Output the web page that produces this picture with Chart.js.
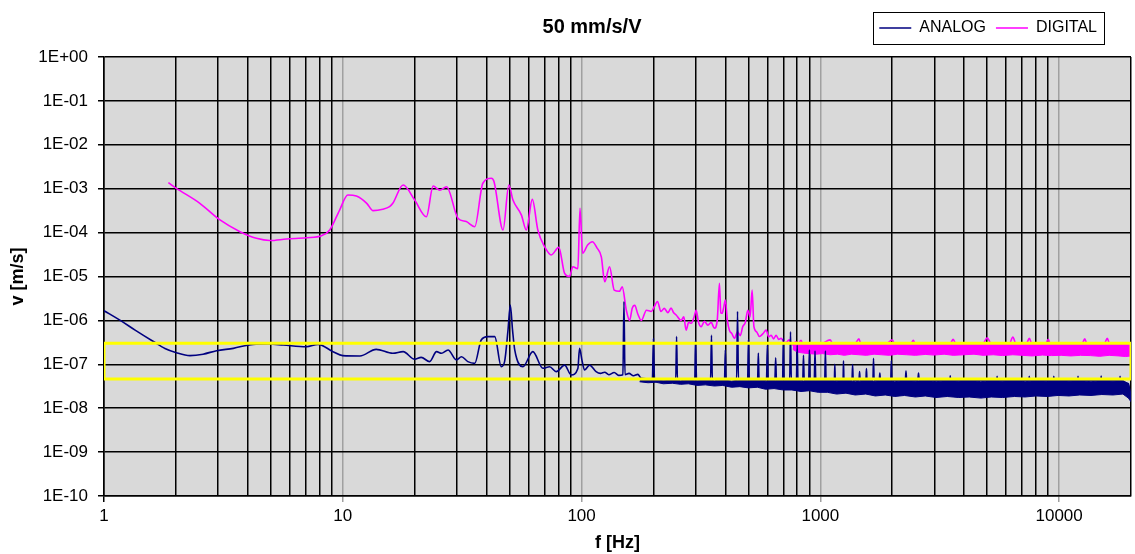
<!DOCTYPE html>
<html>
<head>
<meta charset="utf-8">
<script src="https://cdn.jsdelivr.net/npm/chart.js@4/dist/chart.umd.min.js"></script>
<style>
  html, body { margin: 0; padding: 0; background: #fff; }
  canvas { display: block; }
</style>
</head>
<body>
<canvas id="chart" width="1135" height="554"></canvas>
<script>
// ---- values ----
const seriesNames = ['ANALOG', 'DIGITAL'];

// ANALOG: smooth part below ~180 Hz, then the mains harmonics sticking out of the noise floor
const analogFreq = [
  1.0, 1.17, 1.35, 1.61, 1.8, 2.01, 2.29, 2.6, 2.96, 3.48, 4.21, 4.9, 5.63, 7.05, 7.88, 9.1, 10.0,
  11.8, 13.8, 16.2, 17.9, 20.0, 21.3, 23.1, 24.7, 25.9, 27.6, 29.9, 31.4, 33.4, 35.7, 38.0, 40.5,
  43.3, 46.1, 47.6, 49.2, 50.3, 51.4, 52.5, 56.8, 62.5, 68.9, 73.5, 78.4, 84.9, 90.5, 96.5, 98.1,
  100.5, 103, 108, 115, 120, 125, 130, 137, 143, 149, 150.5, 152, 158, 165, 172, 178,
  198, 200, 202, 225, 248, 250, 252, 275, 298, 300, 303, 325, 347, 350, 353, 375, 397, 400, 403,
  425, 446, 450, 454, 475, 496, 500, 504, 546, 550, 554, 595, 600, 605, 645, 650, 655, 695, 700, 705,
  744, 750, 756, 794, 800, 806, 844, 850, 856, 894, 900, 906, 943, 950, 957, 1043, 1050, 1057,
  1145, 1150, 1155, 1245, 1250, 1256, 1357, 1365, 1373, 1452, 1460, 1468, 1552, 1560, 1568,
  1660, 1670, 1680, 1765, 1775, 1785, 1972, 1983, 1994, 2270, 2284, 2298, 2560, 2577, 2594,
  3490, 3500, 3510, 5480, 5500, 5520, 7470, 7500, 7530, 9470, 9500, 9530, 11970, 12000, 12030,
  14960, 15000, 15040, 17950, 18000, 18050, 19500, 20000
];
const analogVel = [
  1.66e-6, 1.0e-6, 6.0e-7, 3.3e-7, 2.3e-7, 1.84e-7, 1.58e-7, 1.7e-7, 2.04e-7, 2.31e-7, 2.85e-7, 2.9e-7, 2.75e-7, 2.52e-7, 2.85e-7, 1.94e-7, 1.58e-7,
  1.55e-7, 2.19e-7, 1.78e-7, 1.94e-7, 1.3e-7, 1.44e-7, 1.15e-7, 1.94e-7, 1.78e-7, 2.12e-7, 1.26e-7, 1.49e-7, 1.15e-7, 1.05e-7, 3.58e-7, 4.26e-7,
  4.26e-7, 8.8e-8, 1.15e-7, 6.0e-7, 2.24e-6, 6.0e-7, 2.12e-7, 8.8e-8, 1.94e-7, 8.1e-8, 8.8e-8, 6.8e-8, 9.6e-8, 5.7e-8, 8.0e-8, 2.31e-7,
  1.2e-7, 7.4e-8, 9.6e-8, 6.8e-8, 6.2e-8, 6.6e-8, 5.8e-8, 6.5e-8, 5.6e-8, 5.8e-8, 2.7e-6, 5.8e-8, 6.2e-8, 5.5e-8, 5.9e-8, 4.8e-8,
  4.6e-8, 3.9e-7, 4.6e-8, 4.7e-8, 4.6e-8, 4.3e-7, 4.6e-8, 4.5e-8, 4.6e-8, 3.5e-7, 4.6e-8, 4.4e-8, 4.5e-8, 4.6e-7, 4.5e-8, 4.5e-8, 4.4e-8, 2.1e-7, 4.4e-8,
  4.5e-8, 4.4e-8, 1.6e-6, 4.4e-8, 4.4e-8, 4.4e-8, 3.6e-7, 4.4e-8, 4.3e-8, 1.8e-7, 4.3e-8, 4.3e-8, 2.75e-7, 4.3e-8, 4.4e-8, 1.4e-7, 4.3e-8, 4.3e-8, 3.9e-7, 4.3e-8,
  4.3e-8, 5.5e-7, 4.3e-8, 4.3e-8, 2.75e-7, 4.3e-8, 4.3e-8, 1.6e-7, 4.3e-8, 4.3e-8, 2.1e-7, 4.3e-8, 4.3e-8, 2.0e-7, 4.3e-8, 4.3e-8, 2.0e-7, 4.3e-8,
  4.3e-8, 1.0e-7, 4.3e-8, 4.3e-8, 1.2e-7, 4.3e-8, 4.3e-8, 9.9e-8, 4.3e-8, 4.3e-8, 6.8e-8, 4.3e-8, 4.3e-8, 8.0e-8, 4.3e-8,
  4.3e-8, 1.37e-7, 4.3e-8, 4.3e-8, 6.3e-8, 4.3e-8, 4.3e-8, 1.22e-7, 4.3e-8, 4.3e-8, 7.0e-8, 4.3e-8, 4.3e-8, 6.3e-8, 4.3e-8,
  4.3e-8, 5.5e-8, 4.3e-8, 4.3e-8, 5.3e-8, 4.3e-8, 4.3e-8, 5.3e-8, 4.3e-8, 4.3e-8, 5.3e-8, 4.3e-8, 4.3e-8, 5.3e-8, 4.3e-8,
  4.3e-8, 5.4e-8, 4.3e-8, 4.3e-8, 5.3e-8, 4.3e-8, 3.6e-8, 1.5e-8
];

// ANALOG noise floor, upper and lower edge
const analogBandFreq = [
  175, 190, 205, 220, 240, 260, 280, 305, 330, 360, 390, 425, 460, 500, 545, 590, 640, 700, 760, 830,
  900, 980, 1070, 1170, 1280, 1400, 1550, 1700, 1870, 2050, 2250, 2500, 2750, 3050, 3400, 3800, 4200,
  4700, 5200, 5800, 6500, 7200, 8000, 8900, 9900, 11000, 12200, 13600, 15100, 16800, 18500, 19500, 20000
];
const analogBandTop = [
  4.6e-8, 4.4e-8, 4.7e-8, 4.3e-8, 4.6e-8, 4.2e-8, 4.5e-8, 4.3e-8, 4.6e-8, 4.2e-8, 4.5e-8, 4.1e-8, 4.4e-8, 4.3e-8, 4.5e-8, 4.1e-8, 4.4e-8, 4.2e-8, 4.5e-8, 4.1e-8,
  4.4e-8, 4.2e-8, 4.5e-8, 4.1e-8, 4.4e-8, 4.0e-8, 4.3e-8, 4.1e-8, 4.4e-8, 4.0e-8, 4.3e-8, 4.1e-8, 4.4e-8, 4.0e-8, 4.3e-8, 4.1e-8, 4.4e-8,
  4.0e-8, 4.3e-8, 4.1e-8, 4.4e-8, 4.0e-8, 4.3e-8, 4.1e-8, 4.4e-8, 4.1e-8, 4.3e-8, 4.0e-8, 4.3e-8, 4.1e-8, 4.3e-8, 3.6e-8, 2.0e-8
];
const analogBandLow = [
  4.0e-8, 3.8e-8, 3.9e-8, 3.6e-8, 3.7e-8, 3.5e-8, 3.6e-8, 3.3e-8, 3.4e-8, 3.2e-8, 3.3e-8, 3.0e-8, 3.1e-8, 2.9e-8, 3.0e-8, 2.7e-8, 2.8e-8, 2.6e-8, 2.6e-8, 2.4e-8,
  2.5e-8, 2.3e-8, 2.3e-8, 2.1e-8, 2.2e-8, 2.0e-8, 2.1e-8, 1.9e-8, 2.0e-8, 1.85e-8, 1.95e-8, 1.8e-8, 1.9e-8, 1.75e-8, 1.85e-8, 1.75e-8, 1.8e-8,
  1.7e-8, 1.8e-8, 1.75e-8, 1.85e-8, 1.8e-8, 1.9e-8, 1.85e-8, 1.95e-8, 1.9e-8, 2.0e-8, 1.95e-8, 2.05e-8, 2.0e-8, 2.1e-8, 1.7e-8, 1.4e-8
];

// DIGITAL
const digitalFreq = [
  1.86, 2.01, 2.52, 3.06, 3.71, 4.35, 4.95, 5.81, 7.05, 8.15, 8.82, 9.7, 10.5, 11.4, 12.6, 13.4, 14.7, 15.7, 16.2,
  17.9, 20.0, 22.4, 23.9, 25.5, 27.2, 30.4, 32.9, 35.7, 38.6, 41.9, 43.0, 46.9, 49.6, 51.6, 56.0, 58.7, 62.2, 65.6,
  70.0, 74.7, 80.3, 84.9, 89, 91.9, 96.5, 98.5, 101, 106, 111, 116, 121, 125, 131, 137, 144, 148, 154, 159, 163, 167,
  172, 178, 187, 196, 202, 208, 215, 222, 230, 237, 243, 249, 261, 268, 274, 281, 288, 296, 302, 309, 317, 327, 338,
  349, 360, 370, 378, 383, 388, 394, 400, 408, 416, 426, 437, 450, 462, 473, 485, 497, 508, 518, 527, 541, 556, 575,
  593, 608, 622, 637, 653, 669, 685, 702, 719, 740, 766, 790, 800, 830, 850, 900, 1000, 1100, 1130, 1400, 1450, 1480,
  1900, 2000, 2050, 2400, 2450, 2500, 3500, 3600, 3700, 4800, 5000, 5200, 6200, 6400, 6600, 7300, 7500, 7700,
  8800, 9000, 9200, 12500, 12800, 13100, 15500, 15900, 16300, 19000, 20000
];
const digitalVel = [
  1.37e-3, 1.02e-3, 4.65e-4, 1.94e-4, 1.05e-4, 7.4e-5, 6.6e-5, 7.15e-5, 7.65e-5, 8.5e-5, 1.15e-4, 3.27e-4, 7.2e-4, 6.8e-4, 4.65e-4, 3.16e-4, 3.4e-4, 3.9e-4, 4.65e-4,
  1.21e-3, 5.5e-4, 2.3e-4, 1.15e-3, 9.3e-4, 1.11e-3, 2.1e-4, 1.78e-4, 1.36e-4, 1.33e-3, 1.73e-3, 1.44e-3, 1.15e-4, 1.21e-3, 5.5e-4, 2.5e-4, 1.15e-4, 5.7e-4, 1.15e-4,
  4.8e-5, 3.1e-5, 4.6e-5, 1.18e-5, 1.0e-5, 1.67e-5, 1.5e-5, 3.6e-4, 3.4e-5, 5.2e-5, 6.2e-5, 4.5e-5, 2.8e-5, 7.6e-6, 1.67e-5, 4.9e-6, 4.6e-6, 5.8e-6, 1.7e-6, 1.0e-6, 1.9e-6, 2.2e-6,
  1.4e-6, 1.0e-6, 1.7e-6, 1.6e-6, 2.1e-6, 2.7e-6, 1.6e-6, 1.88e-6, 1.5e-6, 1.9e-6, 1.5e-6, 1.33e-6, 1.0e-6, 1.2e-6, 6.0e-7, 9.0e-7, 8.6e-7, 1.2e-6, 1.7e-6, 9.0e-7, 7.2e-7, 9.5e-7, 7.8e-7,
  9.0e-7, 6.6e-7, 1.0e-6, 7.0e-6, 1.5e-6, 1.45e-6, 2.0e-6, 2.9e-6, 1.0e-6, 6.0e-7, 5.0e-7, 3.9e-7, 5.5e-7, 4.5e-7, 7.2e-7, 9.0e-7, 1.7e-6, 1.2e-6, 4.9e-6, 7.2e-7, 5.5e-7, 4.3e-7, 5.0e-7,
  6.0e-7, 4.2e-7, 4.6e-7, 3.8e-7, 4.6e-7, 3.7e-7, 3.9e-7, 3.3e-7, 3.1e-7, 3.6e-7, 2.75e-7, 3.3e-7, 2.6e-7, 3.5e-7, 2.7e-7, 3.0e-7, 2.9e-7, 3.6e-7, 2.8e-7, 3.0e-7, 3.8e-7, 2.9e-7,
  3.0e-7, 3.6e-7, 2.9e-7, 3.0e-7, 3.5e-7, 2.9e-7, 3.0e-7, 3.7e-7, 2.9e-7, 3.0e-7, 4.0e-7, 2.9e-7, 3.0e-7, 4.2e-7, 2.9e-7, 3.0e-7, 3.9e-7, 2.9e-7,
  3.0e-7, 3.7e-7, 2.9e-7, 3.0e-7, 3.8e-7, 2.9e-7, 3.0e-7, 3.9e-7, 2.9e-7, 3.0e-7, 2.8e-7
];

// DIGITAL noise floor, upper and lower edge
const digitalBandFreq = [
  766, 800, 850, 900, 960, 1020, 1100, 1180, 1260, 1350, 1450, 1560, 1680, 1800, 1950, 2100, 2300, 2500, 2750, 3000,
  3300, 3600, 4000, 4400, 4800, 5300, 5800, 6400, 7000, 7700, 8500, 9300, 10200, 11200, 12300, 13500, 14800, 16200,
  17800, 19000, 20000
];
const digitalBandTop = [
  2.9e-7, 3.0e-7, 2.9e-7, 3.1e-7, 2.9e-7, 3.0e-7, 3.1e-7, 2.9e-7, 3.0e-7, 2.95e-7, 3.1e-7, 2.9e-7, 3.0e-7, 3.05e-7, 2.9e-7, 3.0e-7, 3.1e-7, 2.95e-7, 3.0e-7, 3.1e-7,
  2.9e-7, 3.0e-7, 3.05e-7, 2.95e-7, 3.1e-7, 3.0e-7, 2.9e-7, 3.1e-7, 3.0e-7, 3.05e-7, 2.95e-7, 3.1e-7, 3.0e-7, 2.9e-7, 3.05e-7, 3.0e-7, 3.1e-7, 2.95e-7,
  3.05e-7, 3.0e-7, 2.9e-7
];
const digitalBandLow = [
  2.2e-7, 1.9e-7, 1.8e-7, 1.75e-7, 1.7e-7, 1.75e-7, 1.65e-7, 1.7e-7, 1.6e-7, 1.7e-7, 1.65e-7, 1.6e-7, 1.7e-7, 1.65e-7, 1.6e-7, 1.7e-7, 1.65e-7, 1.6e-7, 1.68e-7, 1.62e-7,
  1.7e-7, 1.6e-7, 1.65e-7, 1.7e-7, 1.6e-7, 1.65e-7, 1.58e-7, 1.65e-7, 1.6e-7, 1.55e-7, 1.62e-7, 1.58e-7, 1.6e-7, 1.55e-7, 1.6e-7, 1.58e-7, 1.52e-7, 1.6e-7,
  1.55e-7, 1.5e-7, 1.55e-7
];

// yellow marker box
const boxFreq = [1, 20000, 20000, 1, 1];
const boxVel = [3.0e-7, 3.0e-7, 4.6e-8, 4.6e-8, 3.0e-7];

// axes
const xGridValues = [
  1, 2, 3, 4, 5, 6, 7, 8, 9,
  10, 20, 30, 40, 50, 60, 70, 80, 90,
  100, 200, 300, 400, 500, 600, 700, 800, 900,
  1000, 2000, 3000, 4000, 5000, 6000, 7000, 8000, 9000,
  10000, 20000
];
const xLabelValues = [1, 10, 100, 1000, 10000];
const xLabelTexts = ['1', '10', '100', '1000', '10000'];
const yTickValues = [1e-10, 1e-9, 1e-8, 1e-7, 1e-6, 1e-5, 1e-4, 1e-3, 1e-2, 1e-1, 1];
const yTickLabels = ['1E-10', '1E-09', '1E-08', '1E-07', '1E-06', '1E-05', '1E-04', '1E-03', '1E-02', '1E-01', '1E+00'];

// ---- chart ----
const NAVY = '#000080';
const MAGENTA = '#ff00ff';

function toPoints(xs, ys) {
  return xs.map((x, i) => ({x: x, y: ys[i]}));
}

function isDecade(v) {
  return xLabelValues.indexOf(v) > 0;
}

const plotFrame = {
  id: 'plotFrame',
  beforeDraw(chart) {
    const {ctx, chartArea: a} = chart;
    ctx.save();
    ctx.fillStyle = '#d9d9d9';
    ctx.fillRect(a.left, a.top, a.right - a.left, a.bottom - a.top);
    ctx.restore();
  },
  afterLayout(chart) {
    // title and legend share one row above the plot, like in Excel
    const t = chart.titleBlock;
    const th = t.bottom - t.top, tw = t.right - t.left;
    t.top = 17; t.bottom = 17 + th;
    t.left = 592 - tw / 2; t.right = 592 + tw / 2;
    const lg = chart.legend;
    const lh = lg.bottom - lg.top;
    lg.top = 10; lg.bottom = 10 + lh;
    lg.right = 1107;
  },
  afterDraw(chart) {
    const hb = chart.legend.legendHitBoxes;
    if (!hb || !hb.length) return;
    const first = hb[0], last = hb[hb.length - 1];
    const ctx = chart.ctx;
    ctx.save();
    ctx.strokeStyle = '#000';
    ctx.lineWidth = 1;
    ctx.strokeRect(Math.round(first.left - 6) + 0.5, Math.round(first.top - 8) + 0.5,
      Math.round(last.left + last.width + 7 - first.left + 6), Math.round(first.height + 16));
    ctx.restore();
  }
};

Chart.defaults.font.family = "'Liberation Sans', Arial, sans-serif";
Chart.defaults.font.size = 17;
Chart.defaults.color = '#000';

new Chart(document.getElementById('chart'), {
  type: 'line',
  data: {
    datasets: [
      {
        label: 'box', data: toPoints(boxFreq, boxVel), order: 0,
        borderColor: '#ffff00', backgroundColor: '#ffff00', borderWidth: 3, fill: false
      },
      {
        label: seriesNames[0], data: toPoints(analogFreq, analogVel), order: 1,
        borderColor: NAVY, backgroundColor: NAVY, borderWidth: 1.6, fill: false,
        cubicInterpolationMode: 'monotone'
      },
      {
        label: 'analog floor', data: toPoints(analogBandFreq, analogBandTop), order: 2,
        borderColor: NAVY, backgroundColor: NAVY, borderWidth: 1, fill: '+1'
      },
      {
        label: 'analog floor low', data: toPoints(analogBandFreq, analogBandLow), order: 2,
        borderColor: NAVY, backgroundColor: NAVY, borderWidth: 1, fill: false
      },
      {
        label: seriesNames[1], data: toPoints(digitalFreq, digitalVel), order: 3,
        borderColor: MAGENTA, backgroundColor: MAGENTA, borderWidth: 1.6, fill: false,
        cubicInterpolationMode: 'monotone'
      },
      {
        label: 'digital floor', data: toPoints(digitalBandFreq, digitalBandTop), order: 4,
        borderColor: MAGENTA, backgroundColor: MAGENTA, borderWidth: 1, fill: '+1'
      },
      {
        label: 'digital floor low', data: toPoints(digitalBandFreq, digitalBandLow), order: 4,
        borderColor: MAGENTA, backgroundColor: MAGENTA, borderWidth: 1, fill: false
      }
    ]
  },
  options: {
    responsive: false,
    animation: false,
    devicePixelRatio: 1,
    layout: {padding: {top: 1, right: 2, bottom: 0, left: 0}},
    elements: {point: {radius: 0, hoverRadius: 0}},
    plugins: {
      tooltip: {enabled: false},
      title: {
        display: true,
        text: '50 mm/s/V',
        font: {size: 20, weight: 'bold', lineHeight: 1},
        padding: 0
      },
      legend: {
        display: true,
        position: 'top',
        align: 'end',
        labels: {
          font: {size: 16},
          boxWidth: 32,
          boxHeight: 0,
          padding: 10,
          filter: item => seriesNames.indexOf(item.text) >= 0
        }
      }
    },
    scales: {
      x: {
        type: 'logarithmic',
        min: 1,
        max: 20000,
        afterBuildTicks: scale => { scale.ticks = xGridValues.map(v => ({value: v})); },
        afterFit: scale => { scale.height = 58; },
        ticks: {
          autoSkip: false,
          maxRotation: 0,
          padding: 4,
          callback: value => {
            const i = xLabelValues.indexOf(value);
            return i >= 0 ? xLabelTexts[i] : '';
          }
        },
        grid: {
          color: ctx => isDecade(ctx.tick.value) ? '#a0a0a0' : '#000',
          lineWidth: 1.5,
          tickLength: 6,
          tickColor: ctx => isDecade(ctx.tick.value) ? '#a0a0a0' : (ctx.tick.value === 1 ? '#000' : 'rgba(0,0,0,0)')
        },
        border: {color: '#000', width: 1.5},
        title: {
          display: true,
          text: 'f [Hz]',
          font: {size: 18, weight: 'bold'},
          padding: {top: 0, bottom: 0.2}
        }
      },
      y: {
        type: 'logarithmic',
        min: 1e-10,
        max: 1,
        afterBuildTicks: scale => { scale.ticks = yTickValues.map(v => ({value: v})); },
        afterFit: scale => { scale.width = 104; },
        ticks: {
          autoSkip: false,
          padding: 10,
          callback: (value, index) => yTickLabels[index]
        },
        grid: {color: '#000', lineWidth: 1.5, tickLength: 6},
        border: {color: '#000', width: 1.5},
        title: {
          display: true,
          text: 'v [m/s]',
          font: {size: 18, weight: 'bold'},
          padding: {top: 7, bottom: 0}
        }
      }
    }
  },
  plugins: [plotFrame]
});
</script>
</body>
</html>
